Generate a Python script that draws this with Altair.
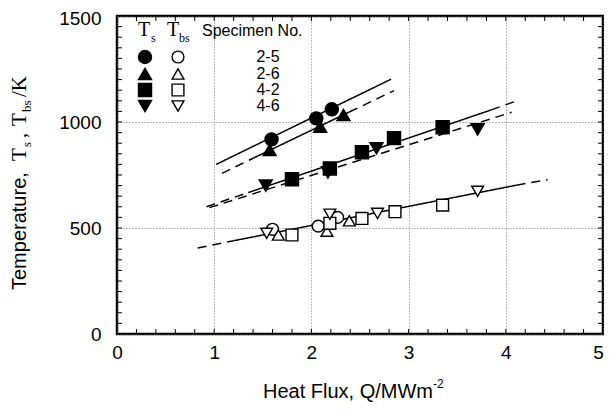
import altair as alt
import pandas as pd

# ---------------- data ----------------
specimens = ["2-5", "2-6", "4-2", "4-6"]
shapes = ["circle", "triangle-up", "square", "triangle-down"]

# Ts (filled symbols)
ts_q = {
    "2-5": [1.59, 2.05, 2.21],
    "2-6": [1.57, 2.09, 2.33],
    "4-2": [1.80, 2.19, 2.52, 2.85, 3.35],
    "4-6": [1.53, 2.17, 2.67, 3.71],
}
ts_t = {
    "2-5": [918, 1017, 1060],
    "2-6": [868, 978, 1033],
    "4-2": [730, 781, 857, 924, 975],
    "4-6": [700, 762, 876, 965],
}
# Tbs (open symbols)
tbs_q = {
    "2-5": [1.60, 2.07, 2.27],
    "2-6": [1.66, 2.16, 2.39],
    "4-2": [1.80, 2.19, 2.52, 2.86, 3.35],
    "4-6": [1.54, 2.19, 2.68, 3.71],
}
tbs_t = {
    "2-5": [494, 509, 550],
    "2-6": [467, 485, 534],
    "4-2": [467, 522, 545, 577, 608],
    "4-6": [475, 565, 569, 673],
}

# fitted lines: segments (line id, style, q0, t0, q1, t1)
seg_line = ["A", "B", "B", "B", "C", "C", "C", "D", "E", "E", "E"]
seg_style = ["solid", "dashed", "solid", "dashed", "dashed", "solid", "dashed",
             "dashed", "dashed", "solid", "dashed"]
seg_q0 = [1.02, 1.08, 1.40, 2.39, 0.92, 1.35, 3.85, 0.95, 0.83, 1.20, 4.11]
seg_t0 = [800, 758, 829, 1047, 600, 667, 1057, 596, 406, 440, 702]
seg_q1 = [2.82, 1.40, 2.39, 2.85, 1.35, 3.85, 4.09, 4.06, 1.20, 4.11, 4.43]
seg_t1 = [1202, 829, 1047, 1148, 667, 1057, 1096, 1046, 440, 702, 728]

x_labels = [0, 1, 2, 3, 4, 5]
y_labels = [0, 500, 1000, 1500]

# ---------------- tables ----------------
rows = []
for s in specimens:
    for q, t in zip(ts_q[s], ts_t[s]):
        rows.append({"specimen": s, "kind": "Ts", "q": q, "t": t})
    for q, t in zip(tbs_q[s], tbs_t[s]):
        rows.append({"specimen": s, "kind": "Tbs", "q": q, "t": t})
pts = pd.DataFrame(rows)

lrows = []
for i in range(len(seg_line)):
    sid = f"{seg_line[i]}{i}"
    lrows.append({"seg": sid, "style": seg_style[i], "q": seg_q0[i], "t": seg_t0[i]})
    lrows.append({"seg": sid, "style": seg_style[i], "q": seg_q1[i], "t": seg_t1[i]})
lines_df = pd.DataFrame(lrows)

W, H = 486, 318
SANS = "Liberation Sans"
SERIF = "Liberation Serif"

xscale = alt.Scale(domain=[0, 5], nice=False, zero=False)
yscale = alt.Scale(domain=[0, 1500], nice=False, zero=False)

xaxis = alt.Axis(values=x_labels, format="d", ticks=False, tickSize=0, domain=False,
                 grid=True, gridDash=[1, 2], gridColor="#666", gridWidth=0.9,
                 labelFont=SANS, labelFontSize=19, labelColor="black",
                 labelPadding=9, labelFlush=False, title=None,
                 labelOffset={"condition": {"test": "datum.value == 5", "value": -5},
                              "value": 0})
yaxis = alt.Axis(values=y_labels, format="d", ticks=False, tickSize=0, domain=False,
                 grid=True, gridDash=[1, 2], gridColor="#666", gridWidth=0.9,
                 labelFont=SANS, labelFontSize=19, labelColor="black",
                 labelPadding=16, labelFlush=False, title=None,
                 labelOffset={"condition": {"test": "datum.value == 1500", "value": 2},
                              "value": 0})

shape_scale = alt.Scale(domain=specimens, range=shapes)
fill_scale = alt.Scale(domain=["Ts", "Tbs"], range=["black", "white"])
size_scale = alt.Scale(domain=["Ts", "Tbs"], range=[170, 140])

lines = alt.Chart(lines_df).mark_line(color="black", strokeWidth=1.5).encode(
    x=alt.X("q:Q", scale=xscale, axis=xaxis),
    y=alt.Y("t:Q", scale=yscale, axis=yaxis),
    detail="seg:N",
    strokeDash=alt.StrokeDash("style:N",
                              scale=alt.Scale(domain=["solid", "dashed"],
                                              range=[[1, 0], [9, 6]]),
                              legend=None),
)

points = alt.Chart(pts).mark_point(filled=True, stroke="black", strokeWidth=1.4,
                                   opacity=1).encode(
    x=alt.X("q:Q", scale=xscale, axis=xaxis),
    y=alt.Y("t:Q", scale=yscale, axis=yaxis),
    shape=alt.Shape("specimen:N", scale=shape_scale, legend=None),
    fill=alt.Fill("kind:N", scale=fill_scale, legend=None),
    size=alt.Size("kind:N", scale=size_scale, legend=None),
)

# inside ticks on all four sides
xt = pd.DataFrame({"q": [round(0.2 * i, 1) for i in range(1, 25)]})
yt = pd.DataFrame({"t": [50 * i for i in range(1, 30)]})
tick_b = alt.Chart(xt).mark_rule(color="black", strokeWidth=1).encode(
    x=alt.X("q:Q", scale=xscale, axis=xaxis), y=alt.value(H), y2=alt.value(H - 5))
tick_t = alt.Chart(xt).mark_rule(color="black", strokeWidth=1).encode(
    x=alt.X("q:Q", scale=xscale, axis=xaxis), y=alt.value(0), y2=alt.value(5))
tick_l = alt.Chart(yt).mark_rule(color="black", strokeWidth=1).encode(
    y=alt.Y("t:Q", scale=yscale, axis=yaxis), x=alt.value(0), x2=alt.value(5))
tick_r = alt.Chart(yt).mark_rule(color="black", strokeWidth=1).encode(
    y=alt.Y("t:Q", scale=yscale, axis=yaxis), x=alt.value(W - 5), x2=alt.value(W))

one = pd.DataFrame({"a": [0]})


def txt(s, px, py, size, font, angle=0, align="left", baseline="alphabetic"):
    kw = dict(text=s, font=font, fontSize=size, color="black", align=align,
              baseline=baseline)
    if angle:
        kw["angle"] = angle
    return alt.Chart(one).mark_text(**kw).encode(x=alt.value(px), y=alt.value(py))


texts = [
    # y-axis title (rotated)
    txt("Temperature,", -91, 274, 20, SANS, 270),
    txt("T", -91, 145, 21, SERIF, 270),
    txt("s", -86, 131, 13, SERIF, 270),
    txt(",", -91, 122, 20, SERIF, 270),
    txt("T", -91, 110, 21, SERIF, 270),
    txt("bs", -86, 96, 13, SERIF, 270),
    txt("/K", -91, 81, 21, SERIF, 270),
    # x-axis title
    txt("Heat Flux, Q/MWm", 146, 382, 20, SANS),
    txt("-2", 316, 372, 12, SANS),
    # legend header
    txt("T", 21, 20, 20, SERIF),
    txt("s", 34, 26, 12, SERIF),
    txt("T", 50, 20, 20, SERIF),
    txt("bs", 62, 26, 12, SERIF),
    txt("Specimen No.", 85, 20, 16, SANS),
]

leg_y = [41, 58, 74, 90]
legend_layers = []
for s, ly in zip(specimens, leg_y):
    for kind, lx in (("Ts", 28), ("Tbs", 61)):
        d = pd.DataFrame({"specimen": [s], "kind": [kind]})
        legend_layers.append(
            alt.Chart(d).mark_point(filled=True, stroke="black", strokeWidth=1.4,
                                    opacity=1).encode(
                x=alt.value(lx), y=alt.value(ly),
                shape=alt.Shape("specimen:N", scale=shape_scale, legend=None),
                fill=alt.Fill("kind:N", scale=fill_scale, legend=None),
                size=alt.Size("kind:N", scale=size_scale, legend=None),
            ))
    legend_layers.append(txt(s, 151, ly, 16, SANS, align="center", baseline="middle"))

chart = alt.layer(
    tick_b, tick_t, tick_l, tick_r, lines, points, *texts, *legend_layers
).properties(
    width=W, height=H,
    padding={"left": 109, "top": 8, "right": 1, "bottom": 69},
    autosize=alt.AutoSizeParams(type="none"),
    background="white",
).configure_view(stroke="black", strokeWidth=2.5)

chart.save("out.html", embed_options={"renderer": "svg", "actions": False})
